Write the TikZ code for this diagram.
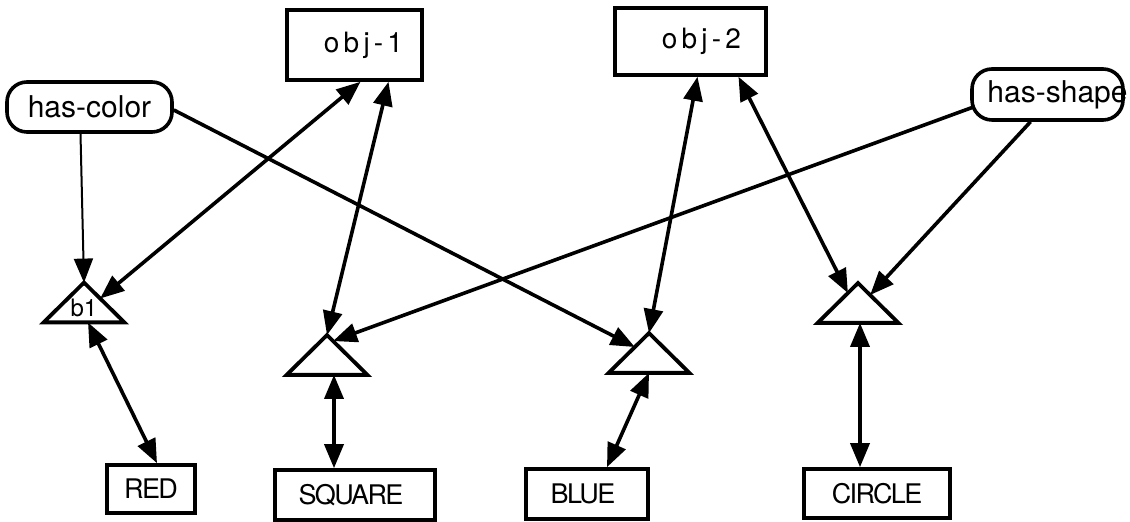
\documentclass[tikz,border=0pt]{standalone}
\usepackage{fontspec}
\setmainfont{TeX Gyre Heros}
\usetikzlibrary{arrows.meta,calc}

\begin{document}
\begin{tikzpicture}[
    x=0.5pt, y=-0.5pt,
    objbox/.style={rectangle, draw=black, line width=1.8pt, inner sep=0pt, font=\fontsize{14pt}{16pt}\selectfont\addfontfeatures{LetterSpace=15}},
    valbox/.style={rectangle, draw=black, line width=1.8pt, inner sep=0pt, font=\fontsize{13.5pt}{15pt}\selectfont\addfontfeatures{LetterSpace=-6}},
    relbox/.style={rectangle, rounded corners=10pt, draw=black, line width=1.8pt, inner sep=0pt, font=\fontsize{15pt}{18pt}\selectfont},
    tribox/.style={rectangle, inner sep=0pt, minimum width=40pt, minimum height=19.5pt, text height=14pt, text depth=0pt, font=\fontsize{12pt}{14pt}\selectfont},
    triline/.style={line width=1.9pt},
    arrow/.style={line width=1.8pt, -{Triangle[length=12pt,width=9.5pt]}},
    thin_arrow/.style={line width=1pt, -{Triangle[length=12pt,width=9.5pt]}},
    both_arrow/.style={line width=1.8pt, {Triangle[length=12pt,width=9.5pt]}-{Triangle[length=12pt,width=9.5pt]}}
]
\useasboundingbox (0,0) rectangle (1130,522);

% Objects
\node[objbox, minimum width=67.5pt, minimum height=35pt] (obj1) at (354.5,45) {\hspace*{9pt}obj-1};
\node[objbox, minimum width=75.5pt, minimum height=33.5pt] (obj2) at (690.5,41.5) {\hspace*{11pt}obj-2};

% Relations
\node[relbox, minimum width=82.5pt, minimum height=25pt] (hascolor) at (89.5,107) {has-color};
\node[relbox, minimum width=75.5pt, minimum height=25.5pt] (hasshape) at (1047.5,94.5) {\makebox[0pt]{\hspace*{10pt}has-shape}};

% Instances
\node[tribox] (b1) at (84,302.5) {b1};
\node[tribox] (sq) at (327,355) {};
\node[tribox] (bl) at (649,353) {};
\node[tribox] (ci) at (858,303) {};
\foreach \t in {b1,sq,bl,ci}
    \draw[triline] (\t.south west) -- (\t.north) -- (\t.south east) -- cycle;

% Values
\node[valbox, minimum width=44pt, minimum height=24pt] (redval) at (151,489) {RED};
\node[valbox, minimum width=80pt, minimum height=25pt] (squareval) at (355,495) {\hspace*{-4pt}SQUARE};
\node[valbox, minimum width=61pt, minimum height=25pt] (blueval) at (587,494) {\hspace*{-4pt}BLUE};
\node[valbox, minimum width=73pt, minimum height=24.5pt] (circleval) at (877,493.5) {CIRCLE};

% Relation links
\draw[thin_arrow] ($(hascolor.south)+(-9,0)$) -- (b1.north);
\draw[arrow] ($(hascolor.east)+(0,3)$) -- ($(bl.north)!0.35!(bl.south west)$);
\draw[arrow] ($(hasshape.west)+(2,13)$) -- ($(sq.north)!0.15!(sq.south east)$);
\draw[arrow] ($(hasshape.south)+(-17,0)$) -- ($(ci.north)!0.3!(ci.south east)$);

% Object links
\draw[both_arrow] ($(obj1.south)+(6,0)$) -- ($(b1.north)!0.4!(b1.south east)$);
\draw[both_arrow] ($(obj1.south)+(34,0)$) -- (sq.north);
\draw[both_arrow] ($(obj2.south)+(7,0)$) -- (bl.north);
\draw[both_arrow] ($(obj2.south)+(48,0)$) -- ($(ci.north)!0.25!(ci.south west)$);

% Value links
\draw[both_arrow] ($(b1.south)+(4,0)$) -- ($(redval.north)+(6,0)$);
\draw[both_arrow] ($(sq.south)+(7,0)$) -- ($(squareval.north)+(-21,0)$);
\draw[both_arrow] (bl.south) -- ($(blueval.north)+(20,0)$);
\draw[both_arrow] ($(ci.south)+(2,0)$) -- ($(circleval.north)+(-17,0)$);

\end{tikzpicture}
\end{document}
